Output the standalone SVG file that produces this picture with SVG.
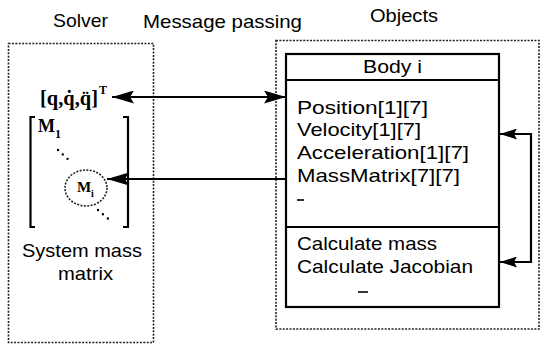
<svg xmlns="http://www.w3.org/2000/svg" width="542" height="348" viewBox="0 0 542 348">
  <defs>
    <style>
      .lbl { font-family: "Liberation Sans", Arial, sans-serif; font-size: 18.5px; fill: #000; }
      .math { font-family: "Liberation Serif", "Times New Roman", serif; font-weight: bold; fill: #000; }
      .dotted { fill: none; stroke: #222; stroke-width: 1.6; stroke-dasharray: 2 1.4; }
      .solid { fill: none; stroke: #000; stroke-width: 2.2; }
      .dots { fill: none; stroke: #000; stroke-width: 2.4; stroke-linecap: round; stroke-dasharray: 0 6.5; }
    </style>
    <marker id="ah" viewBox="0 0 22 13" refX="22" refY="6.5" markerWidth="22" markerHeight="13" orient="auto-start-reverse" markerUnits="userSpaceOnUse">
      <path d="M0,0 L22,6.5 L0,13 L4,6.5 z" fill="#000"/>
    </marker>
    <marker id="ahs" viewBox="0 0 17 11" refX="17" refY="5.5" markerWidth="17" markerHeight="11" orient="auto-start-reverse" markerUnits="userSpaceOnUse">
      <path d="M0,0 L17,5.5 L0,11 L3,5.5 z" fill="#000"/>
    </marker>
  </defs>
  <rect width="542" height="348" fill="#fff"/>

  <!-- column headings -->
  <text class="lbl" x="53" y="27" textLength="55" lengthAdjust="spacingAndGlyphs">Solver</text>
  <text class="lbl" x="143" y="28" textLength="159" lengthAdjust="spacingAndGlyphs">Message passing</text>
  <text class="lbl" x="370" y="22" textLength="68" lengthAdjust="spacingAndGlyphs">Objects</text>

  <!-- solver region -->
  <g id="solver">
    <rect class="dotted" x="8.5" y="43.5" width="145" height="299"/>
    <text class="math" x="40" y="105" font-size="20" textLength="58" lengthAdjust="spacingAndGlyphs">[q,q̇,q̈]</text>
    <text class="math" x="99" y="94" font-size="12">T</text>
  </g>

  <g id="mass-matrix">
    <path class="solid" d="M35,117 H30.5 V227 H35" stroke-width="1.8"/>
    <path class="solid" d="M123,117 H128 V227 H123" stroke-width="1.8"/>
    <text class="math" x="38" y="132" font-size="18">M</text>
    <text class="math" x="55" y="138" font-size="12">1</text>
    <path class="dots" d="M58,150 L72,163"/>
    <path class="dots" d="M98,210 L112,222"/>
    <ellipse class="dotted" cx="86" cy="188" rx="21" ry="18" stroke-width="2" stroke-dasharray="1.8 1.6"/>
    <text class="math" x="77" y="192" font-size="15">M</text>
    <text class="math" x="91" y="197" font-size="10">i</text>
    <text class="lbl" x="22" y="257" textLength="120" lengthAdjust="spacingAndGlyphs">System mass</text>
    <text class="lbl" x="58" y="280" textLength="55" lengthAdjust="spacingAndGlyphs">matrix</text>
  </g>

  <!-- objects region -->
  <g id="objects">
    <rect class="dotted" x="276" y="40.5" width="263" height="288.5"/>
  </g>

  <g id="body-i">
    <rect class="solid" x="286" y="54" width="213" height="253"/>
    <line class="solid" x1="286" y1="80" x2="499" y2="80"/>
    <line class="solid" x1="286" y1="227" x2="499" y2="227"/>
    <text class="lbl" x="363" y="73" textLength="59" lengthAdjust="spacingAndGlyphs">Body i</text>
    <text class="lbl" x="297" y="114" textLength="131" lengthAdjust="spacingAndGlyphs">Position[1][7]</text>
    <text class="lbl" x="297" y="136" textLength="124" lengthAdjust="spacingAndGlyphs">Velocity[1][7]</text>
    <text class="lbl" x="297" y="159" textLength="172" lengthAdjust="spacingAndGlyphs">Acceleration[1][7]</text>
    <text class="lbl" x="297" y="182" textLength="163" lengthAdjust="spacingAndGlyphs">MassMatrix[7][7]</text>
    <line x1="297" y1="200" x2="304" y2="200" stroke="#000" stroke-width="1.6"/>
    <text class="lbl" x="297" y="250" textLength="140" lengthAdjust="spacingAndGlyphs">Calculate mass</text>
    <text class="lbl" x="297" y="273" textLength="176" lengthAdjust="spacingAndGlyphs">Calculate Jacobian</text>
    <line x1="358" y1="292" x2="368" y2="292" stroke="#000" stroke-width="1.6"/>
  </g>

  <!-- connectors -->
  <g id="connectors">
    <path class="solid" d="M112,97 H286" marker-start="url(#ah)" marker-end="url(#ah)"/>
    <path class="solid" d="M286,179 H107" marker-end="url(#ah)"/>
    <path class="solid" d="M500,134 H531 V262 H500" marker-start="url(#ahs)" marker-end="url(#ahs)"/>
  </g>
</svg>
